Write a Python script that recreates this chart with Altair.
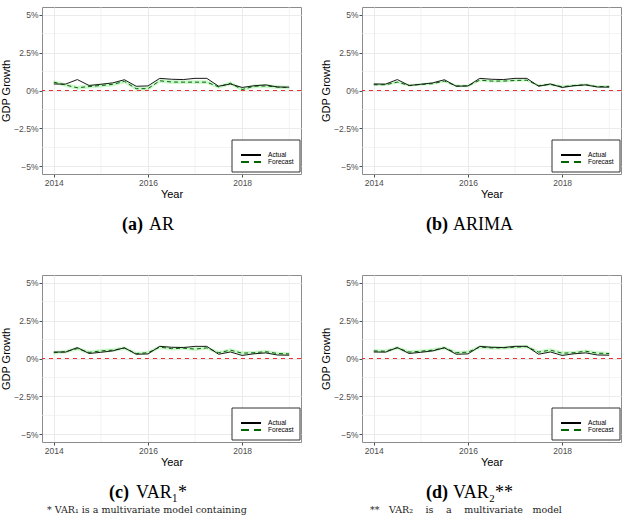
import altair as alt
import pandas as pd

# Quarterly observations, 2014Q1 .. 2019Q1 (decimal years)
years = [2014.0, 2014.25, 2014.5, 2014.75, 2015.0, 2015.25, 2015.5, 2015.75,
         2016.0, 2016.25, 2016.5, 2016.75, 2017.0, 2017.25, 2017.5, 2017.75,
         2018.0, 2018.25, 2018.5, 2018.75, 2019.0]

# Actual quarterly GDP growth (%)
actual = [0.43, 0.42, 0.72, 0.33, 0.41, 0.50, 0.71, 0.28, 0.30, 0.80, 0.74,
          0.72, 0.80, 0.80, 0.28, 0.43, 0.20, 0.31, 0.37, 0.23, 0.22]

# Model forecasts (%)
fc_ar = [0.55, 0.36, 0.18, 0.26, 0.33, 0.40, 0.60, 0.12, 0.12, 0.64, 0.56,
         0.55, 0.55, 0.55, 0.24, 0.48, 0.06, 0.28, 0.30, 0.23, 0.19]
fc_arima = [0.38, 0.38, 0.55, 0.33, 0.40, 0.45, 0.62, 0.30, 0.30, 0.68, 0.62,
            0.62, 0.66, 0.68, 0.32, 0.40, 0.25, 0.33, 0.38, 0.25, 0.27]
fc_var1 = [0.38, 0.45, 0.65, 0.40, 0.50, 0.55, 0.68, 0.33, 0.38, 0.75, 0.65,
           0.68, 0.62, 0.70, 0.38, 0.55, 0.35, 0.38, 0.45, 0.33, 0.30]
fc_var2 = [0.50, 0.48, 0.70, 0.42, 0.48, 0.55, 0.70, 0.38, 0.42, 0.75, 0.70,
           0.70, 0.75, 0.78, 0.42, 0.55, 0.35, 0.38, 0.48, 0.35, 0.33]

# Half-width of each forecast interval (%)
band_ar, band_arima, band_var1, band_var2 = 0.13, 0.09, 0.12, 0.12

x_major = [2014, 2016, 2018]
x_minor = [2015, 2017, 2019]
y_major = [-5, -2.5, 0, 2.5, 5]
y_minor = [-3.75, -1.25, 1.25, 3.75]

W, H = 259, 167
GRID = "#ebebeb"
SANS = "Liberation Sans"
SERIF = "Liberation Serif"
NOTE_FONT = "DejaVu Serif"
one = pd.DataFrame({"k": [0]})


def x_enc(field="year"):
    return alt.X(
        f"{field}:Q",
        scale=alt.Scale(domain=[2013.75, 2019.25], nice=False, zero=False),
        axis=alt.Axis(values=x_major, format="d", title="Year", grid=True,
                      gridColor=GRID, domain=False, tickSize=3,
                      tickColor="#4d4d4d", labelColor="#4d4d4d",
                      labelFontSize=8.5, labelFont=SANS, labelPadding=1,
                      titleFont=SANS, titleFontSize=11, titleFontWeight="normal",
                      titleColor="#000", titlePadding=2),
    )


def y_enc(field):
    return alt.Y(
        f"{field}:Q",
        scale=alt.Scale(domain=[-5.5, 5.5], nice=False, zero=False),
        axis=alt.Axis(values=y_major,
                      labelExpr="replace(toString(datum.value), '-', '\u2212') + '%'",
                      title="GDP Growth",
                      grid=True, gridColor=GRID, domain=False, tickSize=3,
                      tickColor="#4d4d4d", labelColor="#4d4d4d",
                      labelFontSize=8.5, labelFont=SANS, labelPadding=1,
                      titleFont=SANS, titleFontSize=11, titleFontWeight="normal",
                      titleColor="#000", titlePadding=2),
    )


def panel(fc, half, tag, name, tag_x, note=None, note_x=0):
    df = pd.DataFrame({"year": years, "actual": actual, "forecast": fc})
    df["lo"] = df["forecast"] - half
    df["hi"] = df["forecast"] + half

    minor_x = alt.Chart(pd.DataFrame({"v": x_minor})).mark_rule(
        color=GRID, strokeWidth=0.6).encode(x=x_enc("v"))
    minor_y = alt.Chart(pd.DataFrame({"v": y_minor})).mark_rule(
        color=GRID, strokeWidth=0.6).encode(y=y_enc("v"))

    base = alt.Chart(df)
    ribbon = base.mark_area(color="#90ee90", opacity=0.45).encode(
        x=x_enc(), y=y_enc("lo"), y2="hi")
    zero = alt.Chart(one).mark_rule(
        stroke="#f03030", strokeWidth=1.1, strokeDash=[4, 4]
    ).encode(y=alt.datum(0))
    f_line = base.mark_line(color="#006400", strokeWidth=1,
                            strokeDash=[4, 3]).encode(x=x_enc(), y=y_enc("forecast"))
    a_line = base.mark_line(color="#1a1a1a", strokeWidth=1).encode(
        x=x_enc(), y=y_enc("actual"))

    # legend drawn inside the panel's lower-right corner
    box = alt.Chart(one).mark_rect(fill="white", stroke="#333", strokeWidth=1).encode(
        x=alt.value(190), x2=alt.value(258), y=alt.value(133), y2=alt.value(165))
    key_a = alt.Chart(one).mark_rule(color="black", strokeWidth=2).encode(
        x=alt.value(199), x2=alt.value(219), y=alt.value(148))
    key_f = alt.Chart(one).mark_rule(color="#006400", strokeWidth=2,
                                     strokeDash=[8, 5]).encode(
        x=alt.value(199), x2=alt.value(219), y=alt.value(155))
    lab_a = alt.Chart(one).mark_text(text="Actual", font=SANS, fontSize=6.6,
                                     align="left", baseline="middle").encode(
        x=alt.value(226), y=alt.value(148))
    lab_f = alt.Chart(one).mark_text(text="Forecast", font=SANS, fontSize=6.6,
                                     align="left", baseline="middle").encode(
        x=alt.value(226), y=alt.value(155))

    # sub-figure caption
    cap_tag = alt.Chart(one).mark_text(text=tag, font=SERIF, fontSize=18,
                                       fontWeight="bold", align="left",
                                       baseline="middle").encode(
        x=alt.value(tag_x), y=alt.value(218))
    cap_name = alt.Chart(one).mark_text(text=name, font=SERIF, fontSize=18,
                                        align="left", baseline="middle").encode(
        x=alt.value(tag_x + 27), y=alt.value(218))

    layers = [minor_x, minor_y, ribbon, zero, f_line, a_line,
              box, key_a, key_f, lab_a, lab_f, cap_tag, cap_name]
    if note:
        layers.append(alt.Chart(one).mark_text(
            text=note, font=NOTE_FONT, fontSize=9.5, align="left",
            baseline="middle", color="#222").encode(
            x=alt.value(note_x), y=alt.value(235)))
    return alt.layer(*layers).properties(width=W, height=H)


SP = "\u2003"
pa = panel(fc_ar, band_ar, "(a)", "AR", 80)
pb = panel(fc_arima, band_arima, "(b)", "ARIMA", 64)
pc = panel(fc_var1, band_var1, "(c)", "VAR\u2081*", 67,
           "* VAR\u2081 is a multivariate model containing", 5)
pd_ = panel(fc_var2, band_var2, "(d)", "VAR\u2082**", 64,
            "**" + SP + "VAR\u2082" + SP + " is" + SP + " a" + SP + " multivariate"
            + SP + "model", 8)

row1 = alt.hconcat(pa, pb, spacing=17)
row2 = alt.hconcat(pc, pd_, spacing=17)

chart = alt.vconcat(row1, row2, spacing=39).properties(
    padding={"left": 0, "top": 6, "right": 5, "bottom": 0},
    background="white",
).configure_view(stroke="#8c8c8c", strokeWidth=1)

chart.save("out.html", embed_options={"renderer": "svg", "actions": False})
